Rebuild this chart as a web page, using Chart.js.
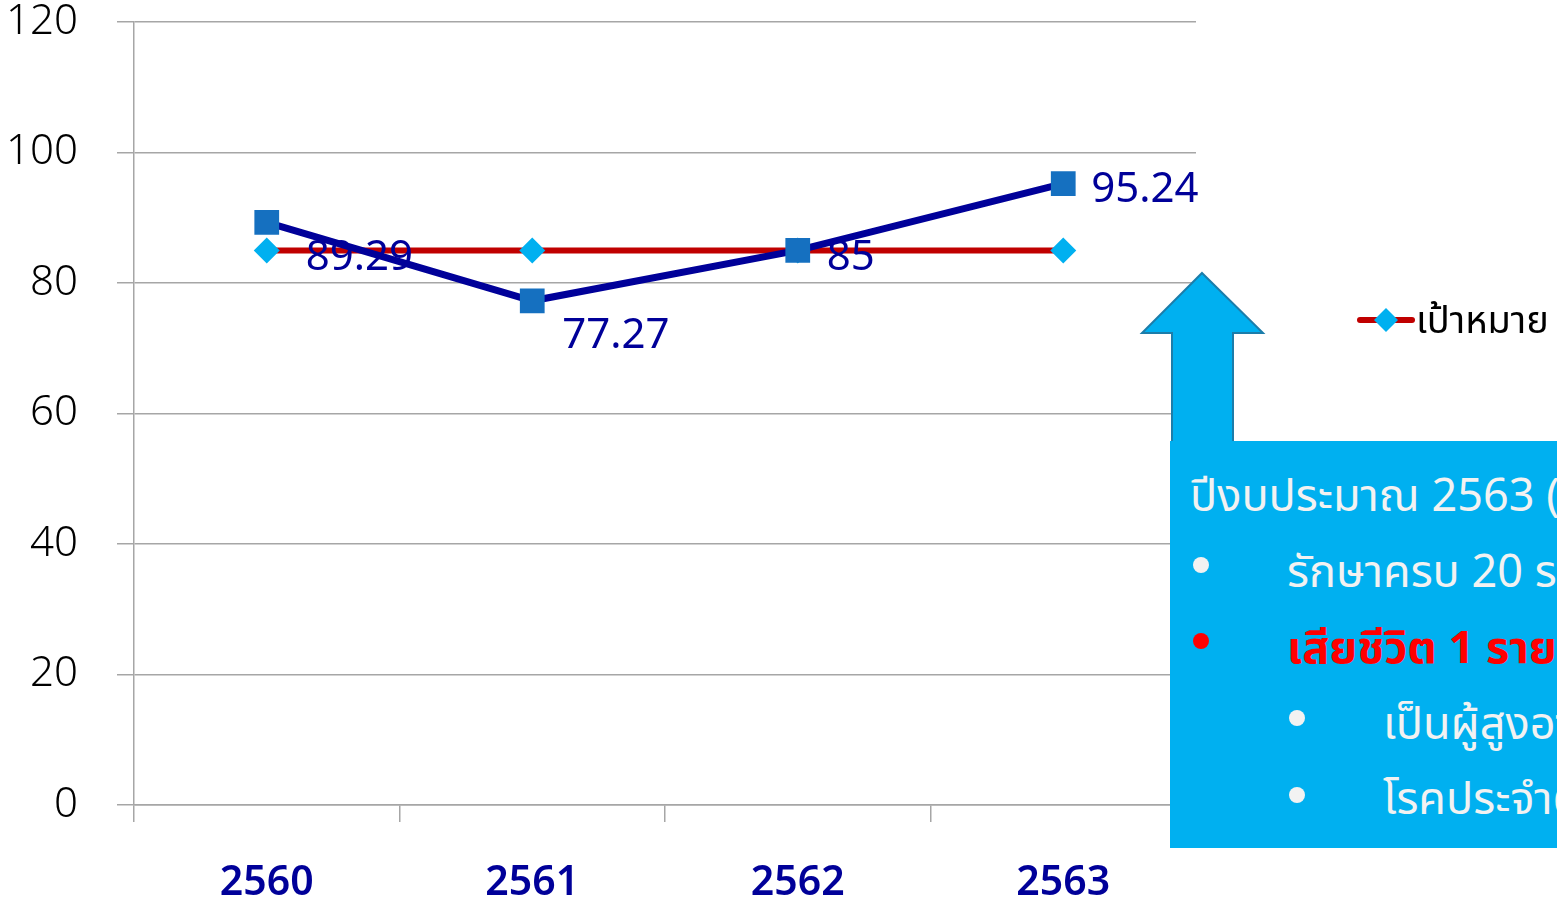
<!DOCTYPE html>
<html>
<head>
<meta charset="utf-8">
<script src="https://cdn.jsdelivr.net/npm/chart.js@4/dist/chart.umd.min.js"></script>
<style>
  html, body { margin: 0; padding: 0; background: #fff; overflow: hidden; }
  #wrap { position: relative; width: 1557px; height: 903px; overflow: hidden; font-family: "Noto Sans", "Noto Sans Thai", "Loma", sans-serif; }
  #chart { position: absolute; left: 0; top: 0; }
  #arrow { position: absolute; left: 0; top: 0; }
  #note { position: absolute; left: 1170px; top: 441px; width: 420px; height: 407px; background: #00B0F0; color: #F2F2F2; font-size: 45px; white-space: nowrap; }
  #note div { position: absolute; line-height: 56px; }
  .dot { position: absolute; width: 16px; height: 16px; border-radius: 50%; background: #F2F2F2; }
</style>
</head>
<body>
<div id="wrap">
  <canvas id="chart" width="1557" height="903"></canvas>
  <svg id="arrow" width="1557" height="903">
    <polygon points="1202,273 1263,333 1233,333 1233,446 1172,446 1172,333 1142,333" fill="#00B0F0" stroke="#1C7DAA" stroke-width="2"/>
  </svg>
  <div id="note">
    <div style="left:20px; top:25px;">ปีงบประมาณ 2563 (ต.ค.62 - ก.ย.63)</div>
    <span class="dot" style="left:23px; top:116px;"></span>
    <div style="left:117px; top:101px;">รักษาครบ 20 ราย</div>
    <span class="dot" style="left:23px; top:192px; background:#FF0000;"></span>
    <div style="left:117px; top:177px; color:#FF0000; font-weight:bold;">เสียชีวิต 1 ราย</div>
    <span class="dot" style="left:119px; top:269px;"></span>
    <div style="left:213px; top:253px;">เป็นผู้สูงอายุ</div>
    <span class="dot" style="left:119px; top:346px;"></span>
    <div style="left:213px; top:328px;">โรคประจำตัว</div>
  </div>
</div>
<script>
// categories and values
const years = ['2560', '2561', '2562', '2563'];
const targetValues = [85, 85, 85, 85];
const actualValues = [89.29, 77.27, 85, 95.24];
const yTicks = [0, 20, 40, 60, 80, 100, 120];

// where each data label sits relative to its point (hand-placed in the original)
const labelOffsets = [[39, 36], [30, 35], [29, 8], [28, 6]];

const FONT = '"Noto Sans", "Noto Sans Thai", "Loma", sans-serif';

// data labels for the actual series + the single legend entry at right
const extras = {
  id: 'extras',
  afterDatasetsDraw(chart) {
    const ctx = chart.ctx;
    const meta = chart.getDatasetMeta(1);
    ctx.save();
    ctx.font = '42px ' + FONT;
    ctx.fillStyle = '#000099';
    ctx.textAlign = 'left';
    ctx.textBaseline = 'middle';
    meta.data.forEach(function(pt, i) {
      ctx.fillText(String(actualValues[i]), pt.x + labelOffsets[i][0], pt.y + labelOffsets[i][1]);
    });
    ctx.restore();
  },
  afterDraw(chart) {
    const ctx = chart.ctx;
    const ds = chart.data.datasets[0];
    const y = 320;
    ctx.save();
    ctx.strokeStyle = ds.borderColor;
    ctx.lineWidth = 6;
    ctx.lineCap = 'round';
    ctx.beginPath();
    ctx.moveTo(1360, y);
    ctx.lineTo(1412, y);
    ctx.stroke();
    ctx.fillStyle = ds.pointBackgroundColor;
    ctx.beginPath();
    ctx.moveTo(1386, y - 12);
    ctx.lineTo(1398, y);
    ctx.lineTo(1386, y + 12);
    ctx.lineTo(1374, y);
    ctx.closePath();
    ctx.fill();
    ctx.fillStyle = '#000000';
    ctx.font = '38px ' + FONT;
    ctx.textAlign = 'left';
    ctx.textBaseline = 'middle';
    ctx.fillText(ds.label, 1416, y + 2);
    ctx.restore();
  }
};

new Chart(document.getElementById('chart'), {
  type: 'line',
  data: {
    labels: years,
    datasets: [
      {
        label: 'เป้าหมาย',
        data: targetValues,
        order: 1,
        borderColor: '#C00000',
        borderWidth: 6,
        pointStyle: 'rectRot',
        pointRadius: 13,
        pointBackgroundColor: '#00B0F0',
        pointBorderColor: '#00B0F0',
        pointBorderWidth: 0,
        tension: 0
      },
      {
        label: 'ผลงาน',
        data: actualValues,
        order: 0,
        borderColor: '#000099',
        borderWidth: 7,
        pointStyle: 'rect',
        pointRadius: 17.5,
        pointBackgroundColor: '#1570C0',
        pointBorderColor: '#1570C0',
        pointBorderWidth: 0,
        tension: 0
      }
    ]
  },
  options: {
    responsive: false,
    animation: false,
    layout: { padding: { left: 0, top: 22, right: 361, bottom: 0 } },
    scales: {
      x: {
        offset: true,
        grid: { display: true, offset: true, drawOnChartArea: false, drawTicks: true, tickLength: 17, color: '#A6A6A6', lineWidth: 1.5 },
        border: { display: true, color: '#A6A6A6', width: 1.5 },
        ticks: { color: '#000099', font: { family: FONT, size: 41, weight: '600' }, padding: 37 },
        afterFit(scale) { scale.height = 98; scale.paddingLeft = 0; scale.paddingRight = 0; }
      },
      y: {
        min: 0,
        max: 120,
        afterBuildTicks(scale) { scale.ticks = yTicks.map(function(v) { return { value: v }; }); },
        grid: { color: '#A6A6A6', lineWidth: 1.5, tickLength: 17 },
        border: { display: true, color: '#A6A6A6', width: 1.5 },
        ticks: { color: '#000000', font: { family: FONT, size: 42, weight: '300' }, padding: 39 },
        afterFit(scale) { scale.width = 134; scale.paddingTop = 0; scale.paddingBottom = 0; }
      }
    },
    plugins: {
      legend: { display: false },
      tooltip: { enabled: false }
    }
  },
  plugins: [extras]
});
</script>
</body>
</html>
